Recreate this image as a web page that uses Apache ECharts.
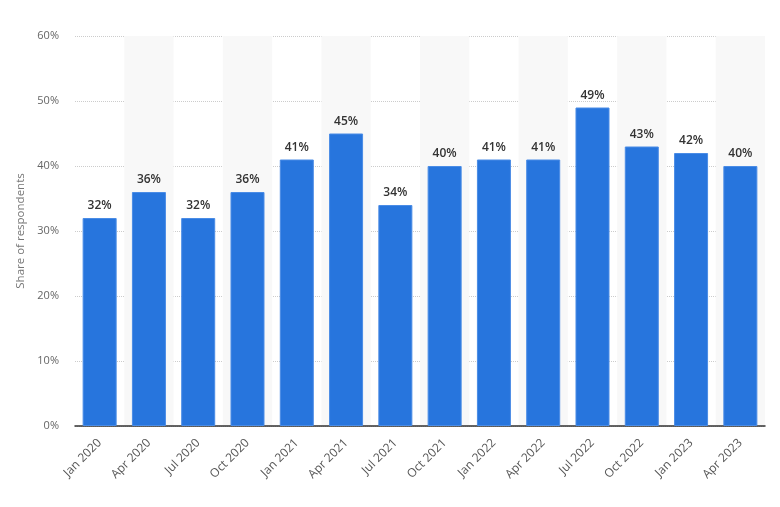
<!DOCTYPE html>
<html><head><meta charset="utf-8">
<script src="https://cdn.jsdelivr.net/npm/echarts@6/dist/echarts.min.js"></script>
<style>html,body{margin:0;padding:0;background:#fff}#c{width:780px;height:507px}</style>
</head><body><div id="c"></div>
<script>
const categories = ["Jan 2020","Apr 2020","Jul 2020","Oct 2020","Jan 2021","Apr 2021","Jul 2021","Oct 2021","Jan 2022","Apr 2022","Jul 2022","Oct 2022","Jan 2023","Apr 2023"];
const values = [32,36,32,36,41,45,34,40,41,41,49,43,42,40];
const yTicks = [0,10,20,30,40,50,60];
const chart = echarts.init(document.getElementById('c'));
chart.setOption({
  animation:false,
  textStyle:{fontFamily:'Open Sans'},
  grid:{left:75,right:15,top:36,bottom:81},
  xAxis:{type:'category',data:categories,
    axisLine:{lineStyle:{color:'#333',width:1.5}},
    axisTick:{show:false},
    axisLabel:{rotate:45,color:'#555',fontSize:12,fontFamily:'Open Sans',margin:15,interval:0},
    splitArea:{show:true,areaStyle:{color:['rgba(255,255,255,0)','#f8f8f8']}}
  },
  yAxis:{type:'value',min:yTicks[0],max:yTicks[yTicks.length-1],interval:10,
    name:'Share of respondents',nameLocation:'middle',nameGap:46,
    nameTextStyle:{color:'#777',fontSize:11.5,fontFamily:'Open Sans'},
    axisLabel:{formatter:v=>v+'%',color:'#666',fontSize:11,fontFamily:'Open Sans',margin:16},
    axisLine:{show:false},axisTick:{show:false},
    splitLine:{lineStyle:{color:'#ccc',type:'dotted'}}
  },
  series:[{type:'bar',data:values,barWidth:'69%',
    itemStyle:{color:'#2775dd',borderColor:'#4a8ce6',borderWidth:1},
    label:{show:true,position:'top',formatter:p=>p.value+'%',color:'#333',fontSize:12,fontWeight:600,fontFamily:'Open Sans',distance:6}
  }]
});
</script></body></html>
